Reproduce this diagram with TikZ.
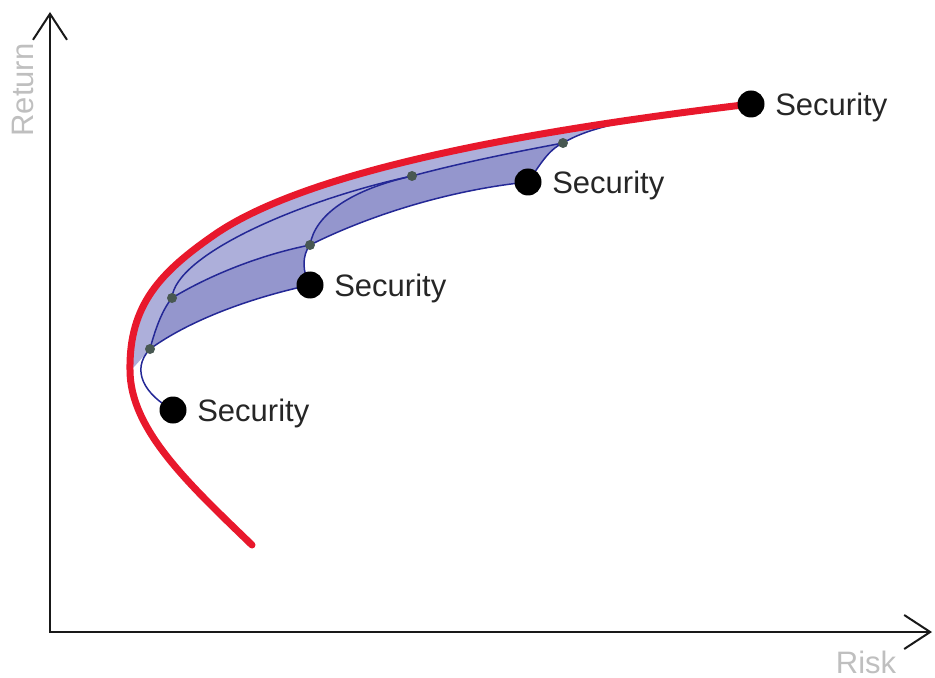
\documentclass[tikz,border=0pt]{standalone}
\usepackage{fontspec}
\setmainfont{Liberation Sans}
\usepackage{tikz}
\usetikzlibrary{arrows.meta}
\usetikzlibrary{positioning}
\definecolor{frontred}{RGB}{232,24,44}
\definecolor{mixblue}{RGB}{36,40,150}
\definecolor{lightmix}{RGB}{173,175,218}
\definecolor{darkmix}{RGB}{148,150,205}
\definecolor{dotgray}{RGB}{72,88,82}
\tikzset{
  security/.style={circle,fill=black,inner sep=0pt,minimum size=13.5pt},
  portfolio/.style={circle,fill=dotgray,inner sep=0pt,minimum size=5pt},
  sec label/.style={font=\fontsize{15.5}{18}\selectfont,text=black!85,inner sep=2pt,text depth=0pt},
  axis label/.style={font=\fontsize{15.5}{18}\selectfont,text=black!25},
  combo line/.style={draw=mixblue,line width=0.75pt},
  frontier/.style={draw=frontred,line width=3.5pt,line cap=round}
}
\begin{document}
\begin{tikzpicture}[x=0.5pt,y=-0.5pt,>={Straight Barb[length=13pt,width=17pt]}]
	\useasboundingbox (0,0) rectangle (935,678);
	\coordinate (o) at (50,632);
	\coordinate (ytop) at (50,12);
	\coordinate (xend) at (932,632);
	\coordinate (1) at (173,410);
	\coordinate (2) at (310,285);
	\coordinate (3) at (528,182);
	\coordinate (4) at (751,104);
	\coordinate (5) at (150,349);
	\coordinate (6) at (172,298);
	\coordinate (7) at (310,245);
	\coordinate (8) at (412,176);
	\coordinate (9) at (563,143);
	\coordinate (e) at (252,545);
	\coordinate (v) at (130,370);
	\coordinate (w) at (217,233);
	\draw[<->,line width=1pt,black!90] (ytop) -- (o) -- (xend);
	\node [axis label,rotate=90,anchor=base] (ret) at (33,90) {Return};
	\node [axis label,anchor=base] (risk) at (866,673) {Risk};
	\fill [lightmix] (v) .. controls (129,305) and (160,272) .. (w)
		.. controls (317,166) and (551,128) .. (4)
		.. controls (620,118) and (585,130) .. (9)
		.. controls (515,152) and (460,163) .. (8)
		.. controls (350,190) and (315,215) .. (7)
		.. controls (260,255) and (210,275) .. (6)
		.. controls (162,310) and (155,330) .. (5)
		.. controls (140,360) and (134,368) .. cycle;
	\fill [darkmix] (5) .. controls (190,320) and (250,298) .. (2)
		.. controls (302,272) and (302,255) .. (7)
		.. controls (260,255) and (210,275) .. (6)
		.. controls (162,310) and (155,330) .. cycle;
	\fill [darkmix] (7) .. controls (370,215) and (450,190) .. (3)
		.. controls (540,165) and (548,150) .. (9)
		.. controls (515,152) and (460,163) .. (8)
		.. controls (350,190) and (315,215) .. cycle;
	\draw [combo line] (1) .. controls (145,395) and (130,370) .. (5);
	\draw [combo line] (5) .. controls (190,320) and (250,298) .. (2);
	\draw [combo line] (5) .. controls (155,330) and (162,310) .. (6);
	\draw [combo line] (6) .. controls (210,275) and (260,255) .. (7);
	\draw [combo line] (2) .. controls (302,272) and (302,255) .. (7);
	\draw [combo line] (7) .. controls (370,215) and (450,190) .. (3);
	\draw [combo line] (7) .. controls (315,215) and (350,190) .. (8);
	\draw [combo line] (6) .. controls (175,255) and (300,200) .. (8);
	\draw [combo line] (8) .. controls (460,163) and (515,152) .. (9);
	\draw [combo line] (3) .. controls (540,165) and (548,150) .. (9);
	\draw [combo line] (9) .. controls (585,130) and (620,118) .. (4);
	\draw [frontier] (e) .. controls (190,485) and (130,430) .. (v)
		.. controls (129,305) and (160,272) .. (w)
		.. controls (317,166) and (551,128) .. (4);
	\node [portfolio] (p5) at (5) {};
	\node [portfolio] (p6) at (6) {};
	\node [portfolio] (p7) at (7) {};
	\node [portfolio] (p8) at (8) {};
	\node [portfolio] (p9) at (9) {};
	\node [security] (s1) at (1) {};
	\node [security] (s2) at (2) {};
	\node [security] (s3) at (3) {};
	\node [security] (s4) at (4) {};
	\node [sec label,right=3pt of s1] (l1) {Security};
	\node [sec label,right=3pt of s2] (l2) {Security};
	\node [sec label,right=3pt of s3] (l3) {Security};
	\node [sec label,right=3pt of s4] (l4) {Security};
\end{tikzpicture}
\end{document}
